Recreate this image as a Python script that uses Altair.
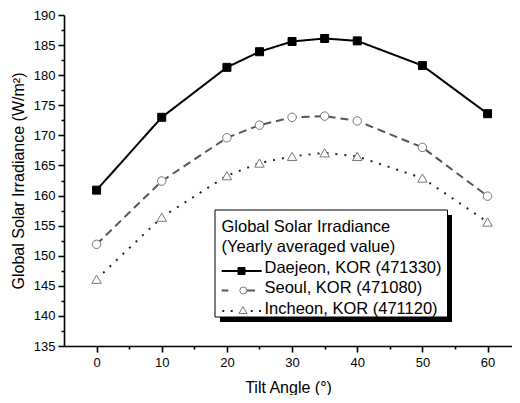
import altair as alt
import pandas as pd

# ---- data ----
angles = [0, 10, 20, 25, 30, 35, 40, 50, 60]
daejeon = [160.9, 173.0, 181.3, 183.9, 185.6, 186.1, 185.7, 181.6, 173.6]
seoul = [151.9, 162.4, 169.6, 171.7, 173.0, 173.2, 172.4, 168.0, 159.9]
incheon = [146.1, 156.4, 163.3, 165.4, 166.5, 167.1, 166.5, 162.9, 155.6]
sites = ["Daejeon, KOR (471330)", "Seoul, KOR (471080)", "Incheon, KOR (471120)"]
legend_title = ["Global Solar Irradiance", "(Yearly averaged value)"]
x_ticks = [0, 5, 10, 15, 20, 25, 30, 35, 40, 45, 50, 55, 60]
y_ticks = [135, 137.5, 140, 142.5, 145, 147.5, 150, 152.5, 155, 157.5, 160, 162.5,
           165, 167.5, 170, 172.5, 175, 177.5, 180, 182.5, 185, 187.5, 190]

FONT = "Liberation Sans"
TOP = 7
LEFT = 56
W, H = 448, 331
BOTTOM = 49
OX = LEFT + 8  # page x of the plot's left edge
OY = TOP + 8   # page y of the plot's top edge

series = {sites[0]: daejeon, sites[1]: seoul, sites[2]: incheon}

X = alt.X(
    "angle:Q",
    title="Tilt Angle (°)",
    scale=alt.Scale(domain=[-5, 63.75], nice=False, zero=False),
    axis=alt.Axis(
        values=x_ticks,
        labelExpr="datum.value % 10 === 0 ? datum.label : ''",
        tickSize={"condition": {"test": "datum.value % 10 === 0", "value": 6}, "value": 3},
        labelPadding=4,
        titlePadding=10,
    ),
)
Y = alt.Y(
    "value:Q",
    title="Global Solar Irradiance (W/m²)",
    scale=alt.Scale(domain=[135, 190], nice=False, zero=False),
    axis=alt.Axis(
        values=y_ticks,
        labelExpr="datum.value % 5 === 0 ? datum.label : ''",
        tickSize={"condition": {"test": "datum.value % 5 === 0", "value": 6}, "value": 3},
        labelPadding=3,
        titlePadding=7,
    ),
)

styles = {
    sites[0]: dict(line_color="black", dash=[1, 0], shape="square", size=64,
                   fill="black", stroke="black"),
    sites[1]: dict(line_color="#555555", dash=[8, 5], shape="circle", size=72,
                   fill="white", stroke="#777777"),
    sites[2]: dict(line_color="#222222", dash=[2, 7], shape="triangle-up", size=90,
                   fill="white", stroke="#777777"),
}

layers = []
for name in sites:
    df = pd.DataFrame({"angle": angles, "value": series[name], "site": name})
    st = styles[name]
    layers.append(
        alt.Chart(df).mark_line(color=st["line_color"], strokeWidth=2,
                                strokeDash=st["dash"]).encode(x=X, y=Y)
    )
for name in sites:
    df = pd.DataFrame({"angle": angles, "value": series[name], "site": name})
    st = styles[name]
    layers.append(
        alt.Chart(df).mark_point(shape=st["shape"], size=st["size"], filled=True,
                                 fill=st["fill"], stroke=st["stroke"], strokeWidth=1,
                                 opacity=1).encode(x=X, y=Y)
    )

# ---- legend box (pixel space of the plot area; page coords minus origin) ----
def px(x):
    return x - OX


def py(y):
    return y - OY


one = pd.DataFrame({"k": [0]})
layers.append(alt.Chart(one).mark_rect(fill="black").encode(
    x=alt.value(px(220)), x2=alt.value(px(452)), y=alt.value(py(215)), y2=alt.value(py(322))))
layers.append(alt.Chart(one).mark_rect(fill="white", stroke="black", strokeWidth=1).encode(
    x=alt.value(px(215)), x2=alt.value(px(447.5)), y=alt.value(py(210)), y2=alt.value(py(317))))

rows_y = [231.5, 252, 272.5, 293, 313.5]
for i, t in enumerate(legend_title):
    layers.append(alt.Chart(pd.DataFrame({"t": [t]})).mark_text(
        align="left", baseline="alphabetic", font=FONT, fontSize=16.5, color="black").encode(
        x=alt.value(px(221.5)), y=alt.value(py(rows_y[i])), text="t:N"))
for i, name in enumerate(sites):
    layers.append(alt.Chart(pd.DataFrame({"t": [name]})).mark_text(
        align="left", baseline="alphabetic", font=FONT, fontSize=16.5, color="black").encode(
        x=alt.value(px(264.5)), y=alt.value(py(rows_y[i + 2])), text="t:N"))

sym_y = [271, 290.5, 311]
# Daejeon symbol
layers.append(alt.Chart(one).mark_rule(color="black", strokeWidth=2).encode(
    x=alt.value(px(221.7)), x2=alt.value(px(261.7)), y=alt.value(py(sym_y[0]))))
layers.append(alt.Chart(one).mark_point(shape="square", size=49, filled=True, fill="black",
                                        stroke="black", strokeWidth=1, opacity=1).encode(
    x=alt.value(px(241.5)), y=alt.value(py(sym_y[0]))))
# Seoul symbol
for a, b in [(221.7, 228.3), (246.7, 255)]:
    layers.append(alt.Chart(one).mark_rule(color="#555555", strokeWidth=2).encode(
        x=alt.value(px(a)), x2=alt.value(px(b)), y=alt.value(py(sym_y[1]))))
layers.append(alt.Chart(one).mark_point(shape="circle", size=49, filled=True, fill="white",
                                        stroke="#777777", strokeWidth=1, opacity=1).encode(
    x=alt.value(px(243.3)), y=alt.value(py(sym_y[1]))))
# Incheon symbol
for a in [223.3, 231.7, 251.7, 260]:
    layers.append(alt.Chart(one).mark_rule(color="#222222", strokeWidth=2).encode(
        x=alt.value(px(a) - 1), x2=alt.value(px(a) + 1), y=alt.value(py(sym_y[2]))))
layers.append(alt.Chart(one).mark_point(shape="triangle-up", size=64, filled=True, fill="white",
                                        stroke="#777777", strokeWidth=1, opacity=1).encode(
    x=alt.value(px(243)), y=alt.value(py(sym_y[2]) - 1)))

chart = alt.layer(*layers).properties(
    width=W, height=H,
    autosize=alt.AutoSizeParams(type="none"),
    padding={"left": LEFT, "top": TOP, "right": 0, "bottom": BOTTOM},
).configure_view(stroke=None).configure_axis(
    grid=False,
    domainColor="black", domainWidth=1.6,
    tickColor="black", tickWidth=1.6,
    labelFont=FONT, labelFontSize=13, labelColor="black",
    titleFont=FONT, titleFontSize=16, titleFontWeight="normal", titleColor="black",
)

chart.save("out.html", embed_options={"renderer": "svg", "actions": False})
